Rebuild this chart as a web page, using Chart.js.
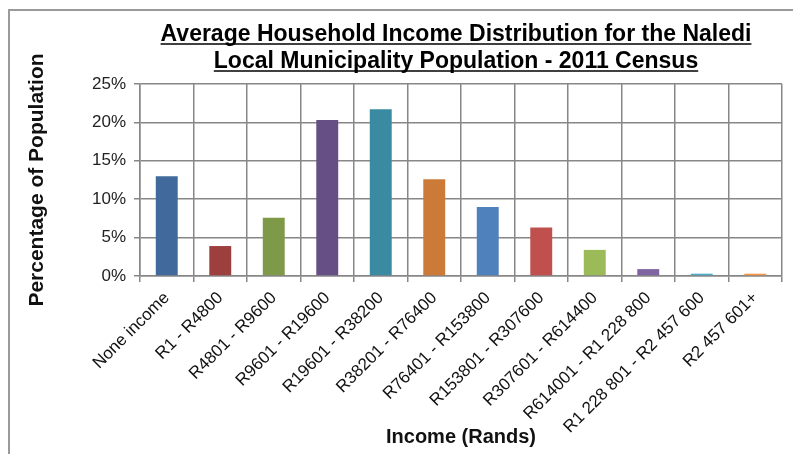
<!DOCTYPE html>
<html>
<head>
<meta charset="utf-8">
<script src="https://cdn.jsdelivr.net/npm/chart.js@4.4.1/dist/chart.umd.min.js"></script>
<style>
  html, body { margin: 0; padding: 0; background: #fff; }
  #wrap { width: 793px; height: 454px; }
</style>
</head>
<body>
<div id="wrap"><canvas id="myChart" width="793" height="454"></canvas></div>
<script>
var incomeBands = ['None income', 'R1 - R4800', 'R4801 - R9600', 'R9601 - R19600', 'R19601 - R38200',
  'R38201 - R76400', 'R76401 - R153800', 'R153801 - R307600', 'R307601 - R614400',
  'R614001 - R1 228 800', 'R1 228 801 - R2 457 600', 'R2 457 601+'];
var percentages = [13.0, 3.9, 7.6, 20.3, 21.7, 12.6, 9.0, 6.3, 3.4, 0.9, 0.3, 0.3];
var titleLines = ['Average Household Income Distribution for the Naledi', 'Local Municipality Population - 2011 Census'];
var barColors = ['#41699b', '#9c3f3d', '#7e9a48', '#654f85', '#3a8ba1', '#cc7a38',
  '#4f81bd', '#c0504d', '#9bbb59', '#8064a2', '#4bacc6', '#f79646'];

var FONT = "'Liberation Sans', Arial, sans-serif";

// frame around the chart + underlined title (Chart.js title can't underline)
var decor = {
  id: 'decor',
  beforeDraw: function(chart) {
    var c = chart.ctx;
    c.save();
    c.fillStyle = '#fff';
    c.fillRect(0, 0, chart.width, chart.height);
    c.strokeStyle = '#9a9a9a';
    c.lineWidth = 2;
    c.beginPath();
    c.moveTo(9, chart.height);
    c.lineTo(9, 10);
    c.lineTo(chart.width, 10);
    c.stroke();
    c.restore();
  },
  afterDraw: function(chart) {
    var c = chart.ctx;
    c.save();
    c.font = 'bold 23px ' + FONT;
    c.fillStyle = '#000';
    c.strokeStyle = '#000';
    c.lineWidth = 1.5;
    c.textAlign = 'center';
    c.textBaseline = 'alphabetic';
    var cx = 456;
    var base = [41, 68];
    titleLines.forEach(function(t, i) {
      c.fillText(t, cx, base[i]);
      var w = c.measureText(t).width;
      c.beginPath();
      c.moveTo(cx - w / 2, base[i] + 3);
      c.lineTo(cx + w / 2, base[i] + 3);
      c.stroke();
    });
    c.restore();
  }
};

var ctx = document.getElementById('myChart');
var myChart = new Chart(ctx, {
  type: 'bar',
  data: {
    labels: incomeBands,
    datasets: [{
      data: percentages,
      backgroundColor: barColors,
      borderWidth: 0,
      barPercentage: 0.41,
      categoryPercentage: 1
    }]
  },
  options: {
    responsive: false,
    animation: false,
    layout: { padding: { top: 84, right: 11, bottom: 0, left: 0 } },
    plugins: {
      legend: { display: false },
      tooltip: { enabled: false }
    },
    scales: {
      x: {
        offset: true,
        grid: { color: '#878787', lineWidth: 1.5, offset: true, tickLength: 6 },
        border: { color: '#878787', width: 1.5 },
        ticks: {
          color: '#111',
          font: { family: FONT, size: 17 },
          maxRotation: 45,
          minRotation: 45,
          padding: 6,
          autoSkip: false
        },
        title: {
          display: true,
          text: 'Income (Rands)',
          color: '#111',
          font: { family: FONT, size: 20, weight: 'bold' },
          padding: { top: 0, bottom: 5 }
        },
        afterFit: function(s) { s.height = 178; }
      },
      y: {
        min: 0,
        max: 25,
        ticks: {
          stepSize: 5,
          color: '#222',
          font: { family: FONT, size: 17 },
          padding: 8,
          callback: function(v) { return v + '%'; }
        },
        grid: { color: '#878787', lineWidth: 1.5, tickLength: 6 },
        border: { color: '#878787', width: 1.5 },
        title: {
          display: true,
          text: 'Percentage of Population',
          color: '#111',
          font: { family: FONT, size: 21, weight: 'bold' },
          padding: { top: 25, bottom: 0 }
        },
        afterFit: function(s) { s.width = 140; }
      }
    }
  },
  plugins: [decor]
});
</script>
</body>
</html>
